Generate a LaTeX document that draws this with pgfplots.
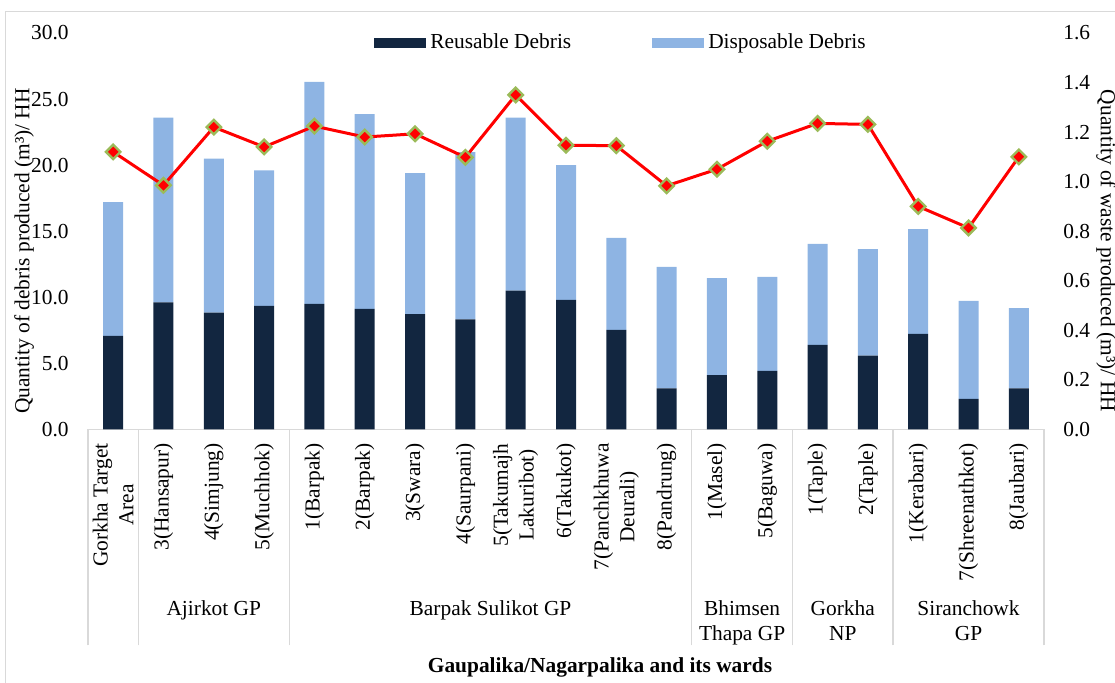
\documentclass[border=0pt]{standalone}
\usepackage{fontspec}
\setmainfont{Liberation Serif}
\usepackage{pgfplots}
\usepackage{pgfplotstable}
\pgfplotsset{compat=1.18}
\definecolor{navy}{RGB}{18,38,64}
\definecolor{lblue}{RGB}{142,180,227}
\definecolor{mgreen}{RGB}{155,187,89}
\definecolor{lgray}{RGB}{217,217,217}

\pgfplotstableread{
x R D W
0 7.07 10.13 1.12
1 9.60 14.00 0.985
2 8.83 11.67 1.22
3 9.34 10.26 1.14
4 9.50 16.80 1.224
5 9.11 14.75 1.18
6 8.71 10.69 1.193
7 8.33 12.65 1.098
8 10.50 13.10 1.35
9 9.80 10.20 1.147
10 7.52 6.98 1.145
11 3.10 9.20 0.983
12 4.11 7.33 1.05
13 4.42 7.12 1.163
14 6.39 7.65 1.235
15 5.58 8.06 1.231
16 7.22 7.93 0.90
17 2.30 7.42 0.813
18 3.10 6.07 1.10
}\data

\begin{document}
\begin{tikzpicture}[font=\fontsize{10.7}{12.84}\selectfont]
\useasboundingbox (0,0) rectangle (557.5pt,341pt);
\draw[lgray, line width=0.6pt] (2.85pt,-20pt) -- (2.85pt,335.15pt) -- (600pt,335.15pt);

\begin{axis}[
  at={(44pt,126.35pt)}, anchor=south west,
  scale only axis, width=478pt, height=198.15pt,
  xmin=-0.5, xmax=18.5, ymin=0, ymax=30,
  ybar stacked, bar width=10pt,
  axis x line*=bottom, axis y line*=left,
  x axis line style={lgray, line width=0.6pt},
  y axis line style={draw=none},
  major tick length=0pt,
  xtick={0,...,18},
  xticklabels={{Gorkha Target\\Area},{3(Hansapur)},{4(Simjung)},{5(Muchhok)},{1(Barpak)},{2(Barpak)},{3(Swara)},{4(Saurpani)},{5(Takumajh\\Lakuribot)},{6(Takukot)},{7(Panchkhuwa\\Deurali)},{8(Pandrung)},{1(Masel)},{5(Baguwa)},{1(Taple)},{2(Taple)},{1(Kerabari)},{7(Shreenathkot)},{8(Jaubari)}},
  xticklabel style={yshift=-6.85pt, rotate=90, anchor=east, align=center, inner sep=0pt},
  ytick={0,5,10,15,20,25,30},
  yticklabel style={xshift=-9.5pt, anchor=east, inner sep=0pt},
  /pgf/number format/fixed, /pgf/number format/fixed zerofill, /pgf/number format/precision=1,
  /pgf/number format/assume math mode=true,
  extra x ticks={-0.5,0.5,3.5,11.5,13.5,15.5,18.5},
  extra x tick labels={},
  extra x tick style={major tick length=108pt, tick align=outside, tick style={lgray, line width=0.6pt}},
  clip=false,
  ylabel={Quantity of debris produced (m³)/ HH},
  every axis y label/.style={at={(axis description cs:-0.0669,0.45)}, rotate=90, anchor=center},
  xlabel={Gaupalika/Nagarpalika and its wards},
  every axis x label/.style={at={(axis description cs:0.5356,-0.5998)}, anchor=center, font=\fontsize{10.7}{12.84}\selectfont\bfseries},
  legend style={at={(0.2992,0.9755)}, anchor=west, draw=none, fill=none, inner sep=0pt,
    legend columns=2, /tikz/every even column/.append style={column sep=38.5pt},
    nodes={inner sep=2pt}},
  legend cell align=left,
]
\addplot[fill=navy, draw=none, legend image code/.code={\fill[navy] (0pt,-2.5pt) rectangle (26pt,2.5pt);}] table[x=x,y=R]{\data};
\addlegendentry{Reusable Debris}
\addplot[fill=lblue, draw=none, legend image code/.code={\fill[lblue] (0pt,-2.5pt) rectangle (26pt,2.5pt);}] table[x=x,y=D]{\data};
\addlegendentry{Disposable Debris}

\node[anchor=north, align=center, inner sep=0pt, yshift=-85.35pt] at (axis cs:2,0) {Ajirkot GP};
\node[anchor=north, align=center, inner sep=0pt, yshift=-85.35pt] at (axis cs:7.5,0) {Barpak Sulikot GP};
\node[anchor=north, align=center, inner sep=0pt, yshift=-85.35pt] at (axis cs:12.5,0) {Bhimsen\\Thapa GP};
\node[anchor=north, align=center, inner sep=0pt, yshift=-85.35pt] at (axis cs:14.5,0) {Gorkha\\NP};
\node[anchor=north, align=center, inner sep=0pt, yshift=-85.35pt] at (axis cs:17,0) {Siranchowk\\GP};
\end{axis}

\begin{axis}[
  at={(44pt,126.35pt)}, anchor=south west,
  scale only axis, width=478pt, height=198.15pt,
  xmin=-0.5, xmax=18.5, ymin=0, ymax=1.6,
  axis y line*=right, axis x line=none,
  y axis line style={draw=none},
  major tick length=0pt,
  ytick={0,0.2,0.4,0.6,0.8,1.0,1.2,1.4,1.6},
  yticklabel style={xshift=9.5pt, anchor=west, inner sep=0pt},
  /pgf/number format/fixed, /pgf/number format/fixed zerofill, /pgf/number format/precision=1,
  /pgf/number format/assume math mode=true,
  clip=false,
  ylabel={Quantity of waste produced (m³)/ HH},
  every axis y label/.style={at={(axis description cs:1.0649,0.45)}, rotate=-90, anchor=center},
]
\addplot[red, line width=1.5pt, mark=square*, mark size=2.55pt,
  mark options={rotate=45, fill=red, draw=mgreen, line width=1.2pt, solid}] table[x=x,y=W]{\data};
\end{axis}
\end{tikzpicture}
\end{document}
